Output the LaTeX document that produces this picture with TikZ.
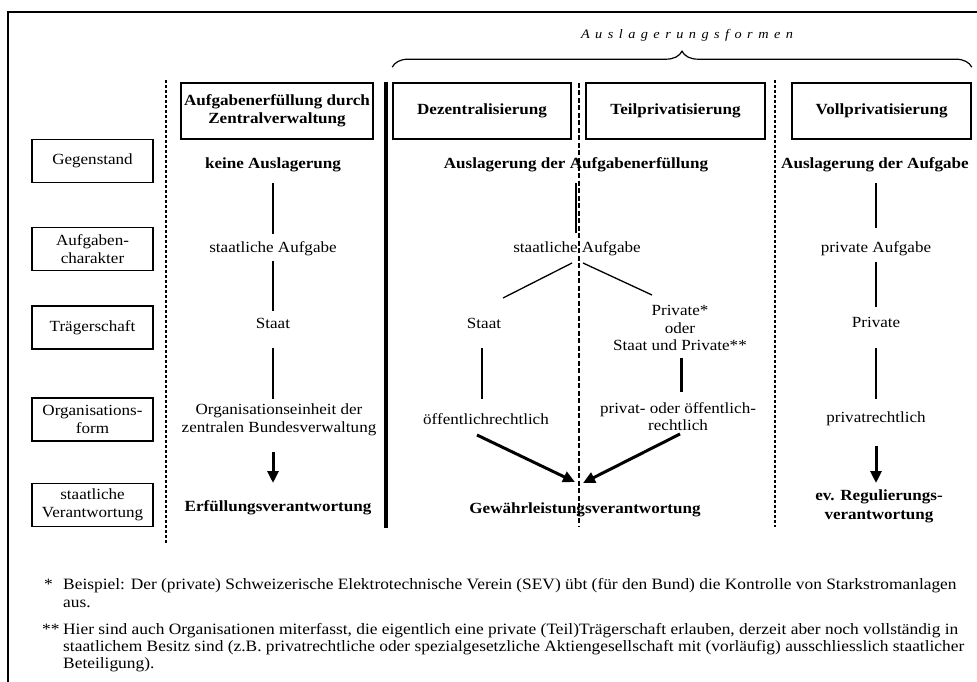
\documentclass[tikz,border=0pt]{standalone}
\usepackage{fontspec}
\setmainfont{Liberation Serif}[FakeStretch=1.1]
\usetikzlibrary{arrows.meta,decorations.pathreplacing,calc}
\begin{document}
\begin{tikzpicture}[x=1pt,y=-1pt]
\tikzset{
 base/.style={inner sep=0pt, align=center, font=\fontsize{15.5}{17.5}\selectfont},
 lab/.style={base, draw, line width=1.6pt, minimum width=121pt, minimum height=43pt},
 hdr/.style={base, draw, line width=1.6pt, minimum height=56pt, font=\fontsize{15.5}{18.5}\selectfont\bfseries},
 txt/.style={base},
 btxt/.style={base, font=\fontsize{15.5}{18.5}\selectfont\bfseries},
 conn/.style={line width=1.3pt},
 tconn/.style={line width=3pt},
 arr/.style={line width=3pt, -{Triangle[length=12pt,width=11pt]}},
 sepdot/.style={line width=2.2pt, dash pattern=on 3pt off 2pt},
 sepdash/.style={line width=2.2pt, dash pattern=on 5pt off 2.5pt},
 fn/.style={inner sep=0pt, font=\fontsize{15.8}{17}\selectfont, anchor=base west},
}
\useasboundingbox (0,0) rectangle (977,682);
% frame
\draw[line width=1.5pt] (8,682) -- (8,12) -- (977,12);

% separators
\draw[sepdot] (166,80) -- (166,543);
\draw[line width=4pt] (386,82) -- (386,528);
\draw[sepdash] (579,83) -- (579,527);
\draw[sepdot] (775,80) -- (775,527);

% header boxes
\node[hdr, minimum width=192pt] (h1) at (277,111) {Aufgabenerfüllung durch\\Zentralverwaltung};
\node[hdr, minimum width=178pt] (h2) at (482,111) {Dezentralisierung};
\node[hdr, minimum width=179pt] (h3) at (675.5,111) {Teilprivatisierung};
\node[hdr, minimum width=179pt] (h4) at (881.5,111) {Vollprivatisierung};

% brace and title
\draw[line width=1.2pt, decorate, decoration={brace, amplitude=16pt}]
  ($(h2.north west)+(0,-15)$) -- ($(h4.north east)+(0,-15)$);
\node[inner sep=0pt, font=\fontsize{13}{15}\selectfont\itshape\addfontfeature{LetterSpace=42}] (title) at (687,35) {Auslagerungsformen};

% left labels
\node[lab] (l1) at (92.5,161) {Gegenstand};
\node[lab] (l2) at (92.5,249) {Aufgaben-\\charakter};
\node[lab] (l3) at (92.5,327.5) {Trägerschaft};
\node[lab] (l4) at (92.5,419.5) {Organisations-\\form};
\node[lab] (l5) at (92.5,505) {staatliche\\Verantwortung};

% column 1
\node[btxt] (c1a) at (273,165) {keine Auslagerung};
\node[txt] (c1b) at (273,249) {staatliche Aufgabe};
\node[txt] (c1c) at (273,323) {Staat};
\node[txt] (c1d) at (279,420) {Organisationseinheit der\\zentralen Bundesverwaltung};
\node[btxt] (c1e) at (278,508) {Erfüllungsverantwortung};
\draw[conn] ($(c1a)+(0,18)$) -- ($(c1b)+(0,-15)$);
\draw[conn] ($(c1b)+(0,12)$) -- ($(c1c)+(0,-12)$);
\draw[conn] ($(c1c)+(0,25)$) -- ($(c1c|-c1d)+(0,-21)$);
\draw[arr] ($(c1c|-c1d)+(0,32)$) -- ($(c1c|-c1e)+(0,-25)$);

% Dezentralisierung / Teilprivatisierung
\node[btxt] (d0) at (576,165) {Auslagerung der Aufgabenerfüllung};
\node[txt] (d1) at (577,249) {staatliche Aufgabe};
\node[txt] (d2) at (484,323) {Staat};
\node[txt] (d3) at (680,328) {Private*\\oder\\Staat und Private**};
\node[txt] (d4) at (486,419) {öffentlichrechtlich};
\node[txt] (d5) at (678,416.5) {privat- oder öffentlich-\\rechtlich};
\node[btxt] (d6) at (585,510) {Gewährleistungsverantwortung};
\draw[conn] ($(d0)+(0,18)$) -- ($(d0|-d1)+(0,-16)$);
\draw[conn] ($(d1)+(-5,14)$) -- ($(d2)+(19,-25)$);
\draw[conn] ($(d1)+(6,14)$) -- ($(d3)+(-28,-33)$);
\draw[conn] ($(d2)+(-2,25)$) -- ($(d4)+(-4,-20)$);
\draw[tconn] ($(d3)+(1,30)$) -- ($(d5)+(3,-24.5)$);
\draw[arr] ($(d4)+(-9,16)$) -- ($(d6)+(-10,-28)$);
\draw[arr] ($(d5)+(2,17.5)$) -- ($(d6)+(-2,-27)$);

% Vollprivatisierung
\node[btxt] (v0) at (875,165) {Auslagerung der Aufgabe};
\node[txt] (v1) at (876,249) {private Aufgabe};
\node[txt] (v2) at (876,322) {Private};
\node[txt] (v3) at (876,419) {privatrechtlich};
\node[btxt] (v4) at (879,506.5) {ev. Regulierungs-\\verantwortung};
\draw[conn] ($(v1|-v0)+(0,18)$) -- ($(v1)+(0,-21)$);
\draw[conn] ($(v1)+(0,13)$) -- ($(v2)+(0,-15)$);
\draw[conn] ($(v2)+(0,26)$) -- ($(v3)+(0,-20)$);
\draw[arr] ($(v3)+(0,27)$) -- ($(v3|-v4)+(0,-23.5)$);

% footnotes
\node[fn] (f1s) at (44,589) {*};
\node[fn] (f1) at (63,589) {Beispiel: Der (private) Schweizerische Elektrotechnische Verein (SEV) übt (für den Bund) die Kontrolle von Starkstromanlagen};
\node[fn] (f1b) at (63,607) {aus.};
\node[fn] (f2s) at (42,634) {**};
\node[fn] (f2) at (63,634) {Hier sind auch Organisationen miterfasst, die eigentlich eine private (Teil)Trägerschaft erlauben, derzeit aber noch vollständig in};
\node[fn] (f2b) at (63,651) {staatlichem Besitz sind (z.B. privatrechtliche oder spezialgesetzliche Aktiengesellschaft mit (vorläufig) ausschliesslich staatlicher};
\node[fn] (f2c) at (63,668) {Beteiligung).};
\end{tikzpicture}
\end{document}
